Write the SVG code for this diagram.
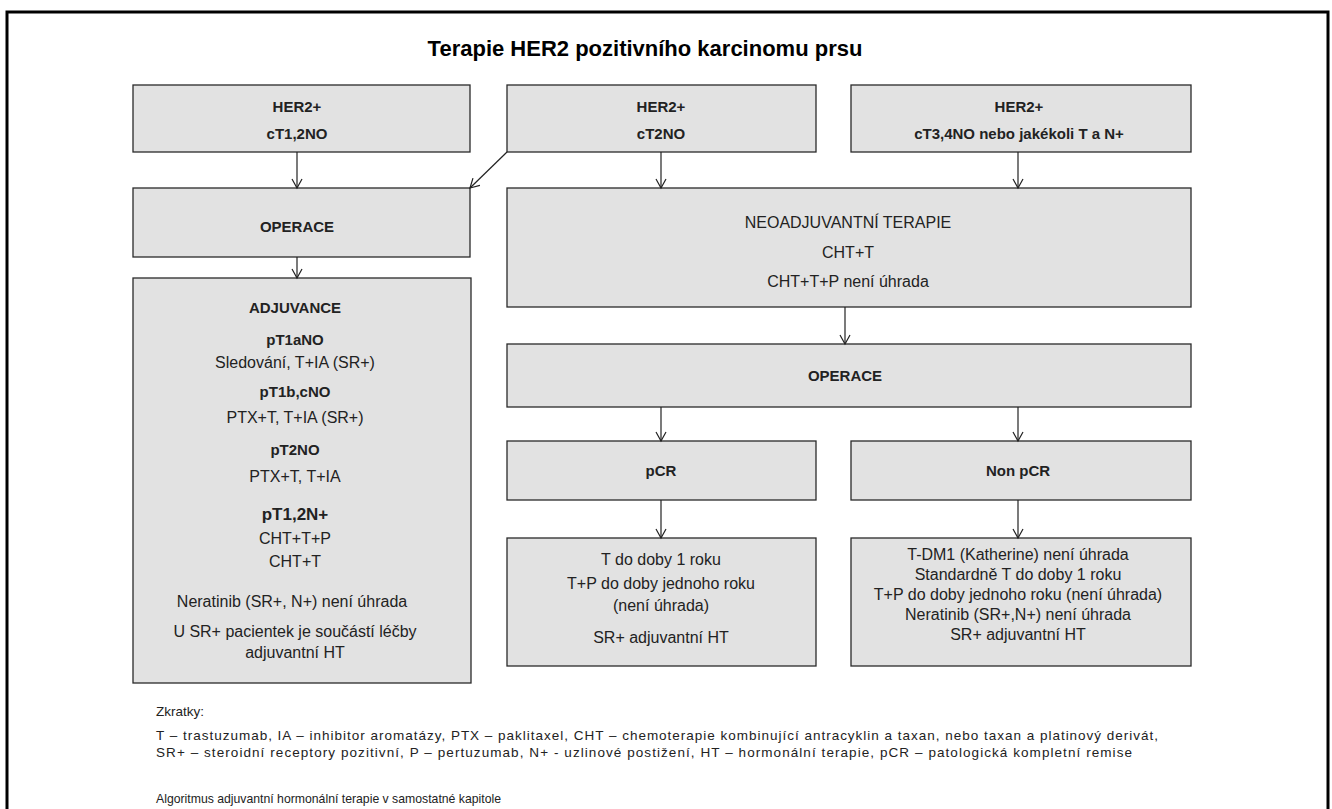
<svg xmlns="http://www.w3.org/2000/svg" width="1332" height="809" viewBox="0 0 1332 809">
<defs>
<marker id="ah" markerUnits="userSpaceOnUse" markerWidth="12" markerHeight="12" viewBox="-10 -6 12 12" refX="0" refY="0" orient="auto">
<path d="M-9,-5 L0,0 L-9,5" fill="none" stroke="#222" stroke-width="1.2"/>
</marker>
<style>
.box{fill:#e2e2e2;stroke:#2a2a2a;stroke-width:1.3}
.t{font-family:'Liberation Sans',Arial,sans-serif;font-size:16px;fill:#222;text-anchor:middle}
.b{font-weight:bold;font-size:15px}
.c{stroke:#222;stroke-width:1.2;fill:none;marker-end:url(#ah)}
.f{font-family:'Liberation Sans',Arial,sans-serif;font-size:13.5px;fill:#222}
</style>
</defs>
<rect x="0" y="0" width="1332" height="809" fill="#fff"/>
<rect x="7" y="12" width="1321" height="830" fill="none" stroke="#000" stroke-width="3"/>
<text x="645" y="56" style="font-family:'Liberation Sans',Arial,sans-serif;font-size:22px;font-weight:bold;fill:#000;text-anchor:middle">Terapie HER2 pozitivního karcinomu prsu</text>

<g id="n-her2-ct12n0">
<rect class="box" x="133" y="85" width="337" height="67"/>
<text class="t b" x="297" y="112">HER2+</text>
<text class="t b" x="297" y="139">cT1,2NO</text>
</g>
<g id="n-her2-ct2n0">
<rect class="box" x="507" y="85" width="309" height="67"/>
<text class="t b" x="661" y="112">HER2+</text>
<text class="t b" x="661" y="139">cT2NO</text>
</g>
<g id="n-her2-ct34">
<rect class="box" x="851" y="85" width="340" height="67"/>
<text class="t b" x="1019" y="112">HER2+</text>
<text class="t b" x="1019" y="139">cT3,4NO nebo jakékoli T a N+</text>
</g>
<g id="n-operace-left">
<rect class="box" x="133" y="188" width="337" height="69"/>
<text class="t b" x="297" y="232">OPERACE</text>
</g>
<g id="n-adjuvance">
<rect class="box" x="133" y="278" width="338" height="405"/>
<text class="t b" x="295" y="313">ADJUVANCE</text>
<text class="t b" x="295" y="345">pT1aNO</text>
<text class="t" x="295" y="368">Sledování, T+IA (SR+)</text>
<text class="t b" x="295" y="397">pT1b,cNO</text>
<text class="t" x="295" y="423">PTX+T, T+IA (SR+)</text>
<text class="t b" x="295" y="455">pT2NO</text>
<text class="t" x="295" y="482">PTX+T, T+IA</text>
<text class="t b" x="295" y="520" style="font-size:17px">pT1,2N+</text>
<text class="t" x="295" y="544">CHT+T+P</text>
<text class="t" x="295" y="567">CHT+T</text>
<text class="t" x="292" y="607">Neratinib (SR+, N+) není úhrada</text>
<text class="t" x="295" y="637">U SR+ pacientek je součástí léčby</text>
<text class="t" x="295" y="658">adjuvantní HT</text>
</g>
<g id="n-neoadjuvance">
<rect class="box" x="507" y="188" width="684" height="119"/>
<text class="t" x="848" y="228">NEOADJUVANTNÍ TERAPIE</text>
<text class="t" x="848" y="258">CHT+T</text>
<text class="t" x="848" y="287">CHT+T+P není úhrada</text>
</g>
<g id="n-operace-mid">
<rect class="box" x="507" y="344" width="684" height="63"/>
<text class="t b" x="845" y="381">OPERACE</text>
</g>
<g id="n-pcr">
<rect class="box" x="507" y="441" width="309" height="59"/>
<text class="t b" x="661" y="476">pCR</text>
</g>
<g id="n-nonpcr">
<rect class="box" x="851" y="441" width="340" height="59"/>
<text class="t b" x="1018" y="476">Non pCR</text>
</g>
<g id="n-pcr-result">
<rect class="box" x="507" y="538" width="309" height="128"/>
<text class="t" x="661" y="565">T do doby 1 roku</text>
<text class="t" x="661" y="589">T+P do doby jednoho roku</text>
<text class="t" x="661" y="611">(není úhrada)</text>
<text class="t" x="661" y="643">SR+ adjuvantní HT</text>
</g>
<g id="n-nonpcr-result">
<rect class="box" x="851" y="538" width="340" height="128"/>
<text class="t" x="1018" y="560">T-DM1 (Katherine) není úhrada</text>
<text class="t" x="1018" y="580">Standardně T do doby 1 roku</text>
<text class="t" x="1018" y="600">T+P do doby jednoho roku (není úhrada)</text>
<text class="t" x="1018" y="620">Neratinib (SR+,N+) není úhrada</text>
<text class="t" x="1018" y="640">SR+ adjuvantní HT</text>
</g>

<g id="connectors">
<line class="c" x1="297" y1="152" x2="297" y2="188"/>
<line class="c" x1="507" y1="152" x2="470" y2="188"/>
<line class="c" x1="661" y1="152" x2="661" y2="188"/>
<line class="c" x1="1018" y1="152" x2="1018" y2="188"/>
<line class="c" x1="297" y1="257" x2="297" y2="278"/>
<line class="c" x1="845" y1="307" x2="845" y2="344"/>
<line class="c" x1="661" y1="407" x2="661" y2="441"/>
<line class="c" x1="1018" y1="407" x2="1018" y2="441"/>
<line class="c" x1="661" y1="500" x2="661" y2="538"/>
<line class="c" x1="1018" y1="500" x2="1018" y2="538"/>
</g>

<g id="footer">
<text class="f" x="156" y="716">Zkratky:</text>
<text class="f" x="156" y="740" textLength="1002" lengthAdjust="spacing">T – trastuzumab, IA – inhibitor aromatázy, PTX – paklitaxel, CHT – chemoterapie kombinující antracyklin a taxan, nebo taxan a platinový derivát,</text>
<text class="f" x="156" y="757" textLength="976" lengthAdjust="spacing">SR+ – steroidní receptory pozitivní, P – pertuzumab, N+ - uzlinové postižení, HT – hormonální terapie, pCR – patologická kompletní remise</text>
<text class="f" x="156" y="803" textLength="345" lengthAdjust="spacingAndGlyphs">Algoritmus adjuvantní hormonální terapie v samostatné kapitole</text>
</g>
</svg>
